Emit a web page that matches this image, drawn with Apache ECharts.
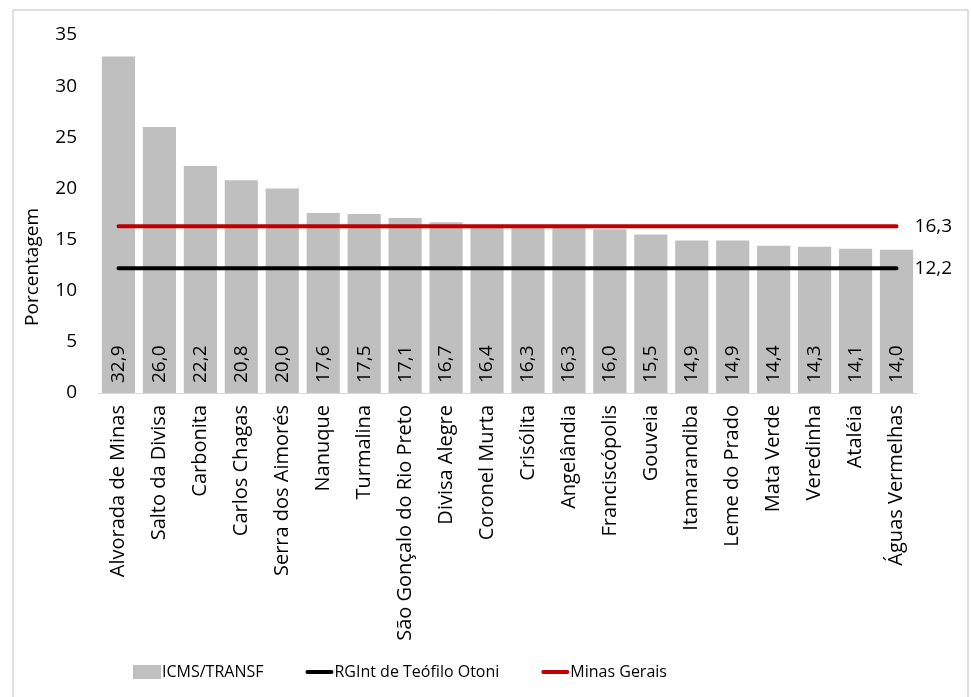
<!DOCTYPE html>
<html>
<head>
<meta charset="utf-8">
<script src="https://cdn.jsdelivr.net/npm/echarts@6/dist/echarts.min.js"></script>
<style>
  html, body { margin: 0; padding: 0; background: #fff; }
  #chart { width: 971px; height: 697px; }
</style>
</head>
<body>
<div id="chart"></div>
<script>
var municipios = ['Alvorada de Minas', 'Salto da Divisa', 'Carbonita', 'Carlos Chagas', 'Serra dos Aimorés',
    'Nanuque', 'Turmalina', 'São Gonçalo do Rio Preto', 'Divisa Alegre', 'Coronel Murta', 'Crisólita',
    'Angelândia', 'Franciscópolis', 'Gouveia', 'Itamarandiba', 'Leme do Prado', 'Mata Verde', 'Veredinha',
    'Ataléia', 'Águas Vermelhas'];
var icmsTransf = [32.9, 26.0, 22.2, 20.8, 20.0, 17.6, 17.5, 17.1, 16.7, 16.4, 16.3, 16.3, 16.0, 15.5, 14.9, 14.9, 14.4, 14.3, 14.1, 14.0];
var rgintTeofilo = 12.2;
var minasGerais = 16.3;
var yTicks = [0, 35, 5]; // min, max, interval

var fonte = '"Open Sans", "Noto Sans", sans-serif';
var fonteLegenda = '"Liberation Sans Narrow", "Open Sans", sans-serif';
var chartDom = document.getElementById('chart');
var myChart = echarts.init(chartDom);

function fmt(v) {
    return v.toFixed(1).replace('.', ',');
}

var iconeLinha = 'path://M2,0 L26,0 A2,2 0 0 1 26,4 L2,4 A2,2 0 0 1 2,0 Z';

var option = {
    animation: false,
    textStyle: { fontFamily: fonte },
    graphic: [{
        type: 'rect',
        shape: { x: 13, y: 10, width: 955, height: 700 },
        style: { fill: 'none', stroke: '#bfbfbf', lineWidth: 1 },
        silent: true
    }],
    legend: {
        bottom: 12,
        left: 128,
        itemGap: 42,
        itemWidth: 28,
        itemHeight: 14,
        textStyle: { color: '#000', fontSize: 16, fontFamily: fonteLegenda, padding: [0, 0, 0, -4] },
        data: [
            { name: 'ICMS/TRANSF', icon: 'rect' },
            { name: 'RGInt de Teófilo Otoni', icon: iconeLinha },
            { name: 'Minas Gerais', icon: iconeLinha }
        ]
    },
    grid: {
        left: 98,
        right: 54,
        top: 35,
        bottom: 304
    },
    xAxis: {
        type: 'category',
        data: municipios,
        axisLine: { lineStyle: { color: '#d9d9d9', width: 1 } },
        axisTick: { show: false },
        axisLabel: {
            rotate: 90,
            interval: 0,
            margin: 12,
            color: '#000',
            fontSize: 20,
            fontFamily: fonte
        }
    },
    yAxis: {
        type: 'value',
        min: yTicks[0],
        max: yTicks[1],
        interval: yTicks[2],
        name: 'Porcentagem',
        nameLocation: 'middle',
        nameGap: 56,
        nameTextStyle: { color: '#000', fontSize: 19, fontFamily: fonte, padding: [0, 106, 0, 0] },
        axisLine: { show: false },
        axisTick: { show: false },
        splitLine: { show: false },
        axisLabel: { color: '#000', fontSize: 19, margin: 21, fontFamily: fonte }
    },
    series: [
        {
            name: 'ICMS/TRANSF',
            type: 'bar',
            data: icmsTransf,
            barCategoryGap: '19%',
            itemStyle: { color: '#bfbfbf' },
            label: {
                show: true,
                position: 'insideBottom',
                rotate: 90,
                align: 'left',
                verticalAlign: 'middle',
                distance: 10,
                color: '#000',
                fontSize: 19,
                fontFamily: fonte,
                formatter: function (p) { return fmt(p.value); }
            },
            z: 1
        },
        {
            name: 'RGInt de Teófilo Otoni',
            type: 'line',
            data: municipios.map(function () { return rgintTeofilo; }),
            symbol: 'none',
            lineStyle: { color: '#000', width: 4, cap: 'round' },
            itemStyle: { color: '#000' },
            endLabel: {
                show: true,
                distance: 18,
                color: '#000',
                fontSize: 19,
                fontFamily: fonte,
                formatter: function (p) { return fmt(p.value); }
            },
            z: 3
        },
        {
            name: 'Minas Gerais',
            type: 'line',
            data: municipios.map(function () { return minasGerais; }),
            symbol: 'none',
            lineStyle: { color: '#c00000', width: 4, cap: 'round' },
            itemStyle: { color: '#c00000' },
            endLabel: {
                show: true,
                distance: 18,
                color: '#000',
                fontSize: 19,
                fontFamily: fonte,
                formatter: function (p) { return fmt(p.value); }
            },
            z: 3
        }
    ]
};

option && myChart.setOption(option);
new ResizeObserver(() => myChart.resize()).observe(chartDom);
</script>
</body>
</html>
